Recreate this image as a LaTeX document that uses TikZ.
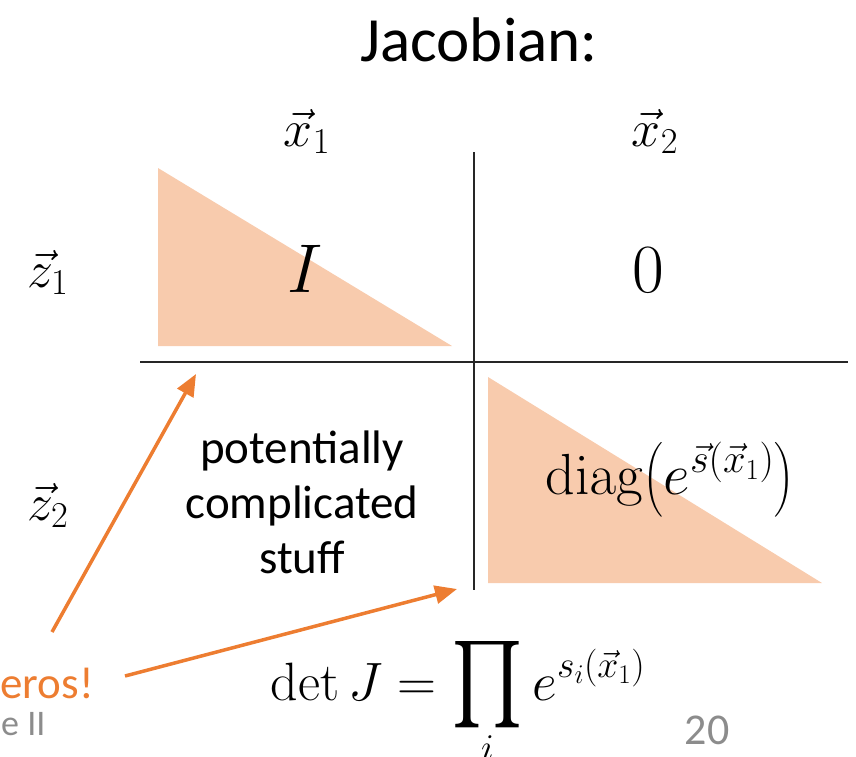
\RequirePackage{fix-cm}
\documentclass[tikz,border=0pt]{standalone}
\usepackage{amsmath}
\usepackage[no-math]{fontspec}
\setmainfont{Carlito}
\usetikzlibrary{arrows.meta}
\definecolor{peach}{HTML}{F8CBAD}
\definecolor{orng}{HTML}{ED7D31}
\definecolor{gry}{HTML}{8C8C8C}
\newcommand{\bigprod}{\mathop{\vcenter{\hbox{\resizebox*{72pt}{90pt}{$\prod$}}}}\limits}
\tikzset{
  lbl/.style={inner sep=0pt, anchor=base, font=\fontsize{52}{60}\selectfont},
  tri/.style={fill=peach, draw=none},
  grid/.style={line width=1.3pt, black!85},
  callout/.style={draw=orng, line width=3.5pt, -{Triangle[length=22pt,width=18pt]}},
  txt/.style={inner sep=0pt, align=center, font=\fontsize{47}{55}\selectfont}
}
\begin{document}
\begin{tikzpicture}[x=1pt,y=-1pt]
\useasboundingbox (0,0) rectangle (856,756);
% title
\node[txt, font=\fontsize{63}{70}\selectfont] (title) at (479,40) {Jacobian:};
% triangles
\fill[tri] (158,168) -- (158,346) -- (452,346) -- cycle;
\fill[tri] (488,377) -- (488,583) -- (822,583) -- cycle;
% grid lines
\draw[grid] (140,362) -- (848,362);
\draw[grid] (474,152) -- (474,590);
% labels
\node[lbl] (x1) at (307,146) {$\vec{x}_1$};
\node[lbl] (x2) at (655,146) {$\vec{x}_2$};
\node[lbl] (z1) at (48,287) {$\vec{z}_1$};
\node[lbl] (z2) at (48,520) {$\vec{z}_2$};
% cells
\node[lbl, font=\fontsize{69}{80}\selectfont] (I) at (305,292) {$I$};
\node[lbl, font=\fontsize{69}{80}\selectfont] (zero) at (648,292) {$0$};
\node[txt] (stuff) at (302,502) {potentially\\complicated\\stuff};
\node[lbl, font=\fontsize{58}{66}\selectfont] (diag) at (670,494) {$\mathrm{diag}\bigl(e^{\vec{s}(\vec{x}_1)}\bigr)$};
% determinant
\node[lbl, font=\fontsize{54}{62}\selectfont] (det) at (458,700) {$\displaystyle \det J = \bigprod_i e^{s_i(\vec{x}_1)}$};
% zeros callout
\node[txt, text=orng, anchor=east, font=\fontsize{45}{52}\selectfont] (zeros) at (94,683) {eros!};
\coordinate (a1s) at (52,632);
\coordinate (a1e) at (196,374);
\coordinate (a2s) at (125,676);
\coordinate (a2e) at (457,589);
\draw[callout] (a1s) -- (a1e);
\draw[callout] (a2s) -- (a2e);
% footer
\node[inner sep=0pt, text=gry, anchor=west, font=\fontsize{36}{40}\selectfont] (foot) at (1,724) {e II};
\node[inner sep=0pt, text=gry, font=\fontsize{44}{50}\selectfont] (page) at (707,730) {20};
\end{tikzpicture}
\end{document}
